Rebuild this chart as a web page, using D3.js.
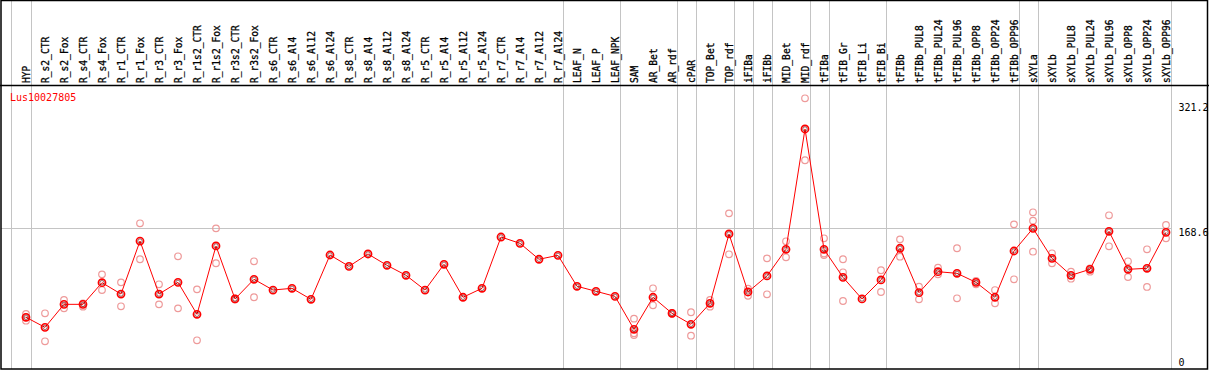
<!DOCTYPE html>
<html>
<head>
<meta charset="utf-8">
<script src="https://cdn.jsdelivr.net/npm/d3@7/dist/d3.min.js"></script>
<style>
    html, body { margin: 0; padding: 0; background: #fff; }
    svg { display: block; }
    text { font-family: "DejaVu Sans Mono", "Liberation Mono", monospace; }
</style>
</head>
<body>
<div id="chart"></div>
<script>
// categories, in plot order
var categories = [
    "HYP", "R_s2_CTR", "R_s2_Fox", "R_s4_CTR", "R_s4_Fox", "R_r1_CTR", "R_r1_Fox",
    "R_r3_CTR", "R_r3_Fox", "R_r1s2_CTR", "R_r1s2_Fox", "R_r3s2_CTR", "R_r3s2_Fox",
    "R_s6_CTR", "R_s6_Al4", "R_s6_Al12", "R_s6_Al24", "R_s8_CTR", "R_s8_Al4",
    "R_s8_Al12", "R_s8_Al24", "R_r5_CTR", "R_r5_Al4", "R_r5_Al12", "R_r5_Al24",
    "R_r7_CTR", "R_r7_Al4", "R_r7_Al12", "R_r7_Al24", "LEAF_N", "LEAF_P", "LEAF_NPK",
    "SAM", "AR_Bet", "AR_rdf", "cPAR", "TOP_Bet", "TOP_rdf", "iFIBa", "iFIBb",
    "MID_Bet", "MID_rdf", "tFIBa", "tFIB_Gr", "tFIB_Li", "tFIB_Bi", "tFIBb",
    "tFIBb_PUL8", "tFIBb_PUL24", "tFIBb_PUL96", "tFIBb_OPP8", "tFIBb_OPP24", "tFIBb_OPP96",
    "sXYLa", "sXYLb", "sXYLb_PUL8", "sXYLb_PUL24", "sXYLb_PUL96", "sXYLb_OPP8",
    "sXYLb_OPP24", "sXYLb_OPP96"
];

// mean expression per category
var means = [
    64.2, 52.4, 79.4, 79.4, 104.8, 91.5, 153.7, 91.5, 105.2, 67.7, 147.9, 85.7, 108.8,
    96.2, 98.2, 85.3, 137.3, 124.0, 138.5, 125.2, 113.5, 96.2, 126.4, 87.7, 98.2,
    158.4, 151.0, 132.3, 136.9, 100.6, 94.7, 88.8,
    50.1, 87.7, 68.9, 56.0, 80.6, 162.0, 93.9, 112.7, 144.0, 285.2,
    144.0, 111.1, 85.7, 108.0, 145.2, 93.1, 117.7, 115.8, 105.2, 87.7, 142.0,
    168.6, 133.4, 113.5, 120.5, 165.1, 120.5, 121.7, 163.9
];

// individual replicates per category
var replicates = [
    [68.1, 64.2, 60.2], [68.9, 36.0], [84.5, 74.7], [80.6, 76.7], [114.6, 96.2],
    [105.2, 77.1], [174.5, 132.3], [102.9, 79.4], [135.8, 74.7], [97.0, 37.2],
    [168.6, 127.6], [86.5, 85.0], [129.9, 87.7],
    [], [], [], [], [], [], [], [], [], [], [], [], [], [], [], [], [], [], [],
    [62.6, 45.4, 43.4], [98.2, 78.3], [69.5, 68.3], [70.1, 42.6], [84.5, 76.7],
    [186.2, 138.1], [97.8, 89.5], [133.4, 91.2], [153.4, 134.6], [321.2, 248.5],
    [156.9, 139.0, 137.3], [132.3, 117.0, 83.3], [], [119.4, 93.9], [155.7, 135.3],
    [100.1, 85.3], [122.4, 114.6], [145.2, 86.5], [106.9, 103.0], [96.2, 80.6],
    [173.3, 108.8],
    [187.4, 177.6, 141.2], [139.3, 127.6], [117.7, 109.5], [121.7, 117.7],
    [183.9, 147.5], [129.9, 111.5], [144.0, 99.8], [172.5, 156.9]
];

// group separators: a grey line is drawn after each of these
var groupEnds = [
    "HYP", "R_r7_Al24", "LEAF_NPK", "AR_rdf", "cPAR", "TOP_rdf", "iFIBa", "iFIBb",
    "MID_rdf", "tFIBa", "tFIB_Bi", "tFIBb_OPP96", "sXYLa", "sXYLb_OPP96"
];

var yTicks = [321.2, 168.6, 0];
var geneName = "Lus10027805";

( function(d3) {
    var W = 1209, H = 370,
        headerY = 85,
        bottomY = 369;

    var svg = d3.select("#chart").append("svg")
        .attr("width", W)
        .attr("height", H);

    var x = d3.scalePoint()
        .domain(categories)
        .range([26, 1166]);

    var y = d3.scaleLinear()
        .domain([0, 321.2])
        .range([372, 98.3]);

    var step = x.step();

    // grey separators (full height)
    var sepX = [x(categories[0]) - step + 4.2].concat(groupEnds.map(function(c) { return x(c) + 4.7; }));
    svg.append("g").selectAll("line")
        .data(sepX)
        .join("line")
        .attr("x1", function(d) { return Math.round(d) + 0.5; })
        .attr("x2", function(d) { return Math.round(d) + 0.5; })
        .attr("y1", 0)
        .attr("y2", bottomY)
        .attr("stroke", "#c4c4c4")
        .attr("stroke-width", 1);

    // horizontal reference at the middle tick
    var yMid = Math.round(y(yTicks[1])) + 0.5;
    svg.append("line")
        .attr("x1", 1).attr("x2", Math.round(sepX[sepX.length - 1]) + 0.5)
        .attr("y1", yMid).attr("y2", yMid)
        .attr("stroke", "#c4c4c4")
        .attr("stroke-width", 1);

    // frame
    svg.append("rect")
        .attr("x", 1).attr("y", 0.5)
        .attr("width", W - 2.5).attr("height", bottomY - 0.5)
        .attr("fill", "none")
        .attr("stroke", "#000")
        .attr("stroke-width", 1.5);

    svg.append("line")
        .attr("x1", 0).attr("x2", W)
        .attr("y1", headerY + 0.5).attr("y2", headerY + 0.5)
        .attr("stroke", "#000")
        .attr("stroke-width", 1.5);

    // category labels, rotated
    svg.append("g").selectAll("text")
        .data(categories)
        .join("text")
        .attr("transform", function(d) { return "translate(" + (x(d) + 4) + "," + (headerY - 2) + ") rotate(-90)"; })
        .attr("text-anchor", "start")
        .style("font-size", "9.6px")
        .style("fill", "#000")
        .style("stroke", "#000")
        .style("stroke-width", "0.3px")
        .text(function(d) { return d; });

    // gene name
    svg.append("text")
        .attr("x", 10)
        .attr("y", 101)
        .style("font-size", "10px")
        .style("fill", "#ff0000")
        .text(geneName);

    // y tick labels
    var tickY = { "321.2": 111, "168.6": 236, "0": 366 };
    svg.append("g").selectAll("text")
        .data(yTicks)
        .join("text")
        .attr("x", 1178.5)
        .attr("y", function(d) { return tickY[String(d)]; })
        .style("font-size", "10px")
        .style("fill", "#000")
        .text(function(d) { return String(d); });

    // replicates
    var repPts = [];
    categories.forEach(function(c, i) {
        replicates[i].forEach(function(v) { repPts.push({ c: c, v: v }); });
    });

    svg.append("g").selectAll("circle")
        .data(repPts)
        .join("circle")
        .attr("cx", function(d) { return x(d.c); })
        .attr("cy", function(d) { return y(d.v); })
        .attr("r", 3.3)
        .attr("fill", "none")
        .attr("stroke", "#ee9a9a")
        .attr("stroke-width", 1.2);

    // mean line
    var line = d3.line()
        .x(function(d, i) { return x(categories[i]); })
        .y(function(d) { return y(d); });

    svg.append("path")
        .datum(means)
        .attr("d", line)
        .attr("fill", "none")
        .attr("stroke", "#ff0000")
        .attr("stroke-width", 1);

    var meanG = svg.append("g").selectAll("g")
        .data(means)
        .join("g")
        .attr("transform", function(d, i) { return "translate(" + x(categories[i]) + "," + y(d) + ")"; });

    meanG.append("circle")
        .attr("r", 3.6)
        .attr("fill", "none")
        .attr("stroke", "#ff0000")
        .attr("stroke-width", 1.6);

    meanG.append("circle")
        .attr("r", 2.2)
        .attr("fill", "none")
        .attr("stroke", "#600000")
        .attr("stroke-width", 0.6);

})(d3);
</script>
</body>
</html>
